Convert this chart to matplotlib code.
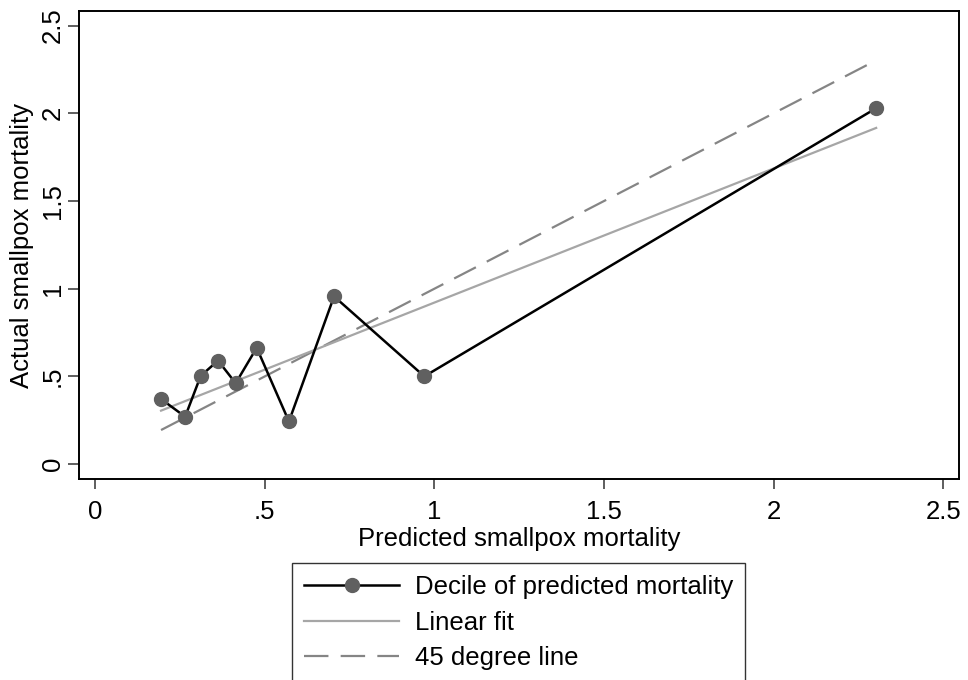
import numpy as np
import matplotlib
matplotlib.use("Agg")
import matplotlib.pyplot as plt
from matplotlib.lines import Line2D

plt.rcParams['font.family'] = ['Liberation Sans', 'DejaVu Sans']

# Decile means of predicted vs. actual smallpox mortality
predicted = [0.194, 0.265, 0.311, 0.362, 0.414, 0.476, 0.571, 0.704, 0.970, 2.302]
actual = [0.371, 0.270, 0.503, 0.590, 0.461, 0.663, 0.243, 0.956, 0.500, 2.029]

x_ticks = [0, 0.5, 1, 1.5, 2, 2.5]
x_tick_labels = ["0", ".5", "1", "1.5", "2", "2.5"]
y_ticks = [0, 0.5, 1, 1.5, 2, 2.5]
y_tick_labels = ["0", ".5", "1", "1.5", "2", "2.5"]

legend_labels = ["Decile of predicted mortality", "Linear fit", "45 degree line"]

FS = 18.5

px = np.array(predicted)
ay = np.array(actual)
slope, intercept = np.polyfit(px, ay, 1)
fit_x = np.array([px.min(), px.max()])
fit_y = intercept + slope * fit_x

fig = plt.figure(figsize=(9.68, 6.8), dpi=100)
ax = fig.add_axes([0.0819, 0.2951, 0.9091, 0.6892])

ax.plot(fit_x, fit_x, color="#858585", lw=1.6, dashes=(11, 5.5), zorder=2)
ax.plot(fit_x, fit_y, color="#a6a6a6", lw=1.6, zorder=2)
ax.plot(px, ay, color="black", lw=1.8, marker="o", markersize=10,
        markerfacecolor="#606060", markeredgecolor="#606060", zorder=3)

ax.set_xlim(-0.047, 2.547)
ax.set_ylim(-0.087, 2.585)
ax.set_xticks(x_ticks)
ax.set_xticklabels(x_tick_labels)
ax.set_yticks(y_ticks)
ax.set_yticklabels(y_tick_labels, rotation=90, va="center")

for s in ax.spines.values():
    s.set_linewidth(1.4)
    s.set_color("black")
ax.tick_params(axis="both", labelsize=FS, width=1.1, color="#333333")
ax.tick_params(axis="x", length=7, pad=8)
ax.tick_params(axis="y", length=8, pad=2.5)

ax.set_xlabel("Predicted smallpox mortality", fontsize=FS, labelpad=2)
ax.set_ylabel("Actual smallpox mortality", fontsize=FS)
ax.yaxis.set_label_coords(-0.052, 0.5)

handles = [
    Line2D([], [], color="black", lw=1.8, marker="o", markersize=10,
           markerfacecolor="#606060", markeredgecolor="#606060"),
    Line2D([], [], color="#a6a6a6", lw=1.6),
    Line2D([], [], color="#858585", lw=1.6, dashes=(11, 5.5)),
]
leg = fig.legend(handles, legend_labels, loc="upper center",
                 bbox_to_anchor=(0.5356, 1 - 563 / 680), fontsize=FS,
                 frameon=True, fancybox=False, edgecolor="black",
                 handlelength=3.7, handletextpad=0.6, labelspacing=0.45,
                 borderpad=0.48, borderaxespad=0, markerscale=1.0)
leg.get_frame().set_linewidth(1.0)

fig.savefig("out.png", dpi=100, facecolor="white")
